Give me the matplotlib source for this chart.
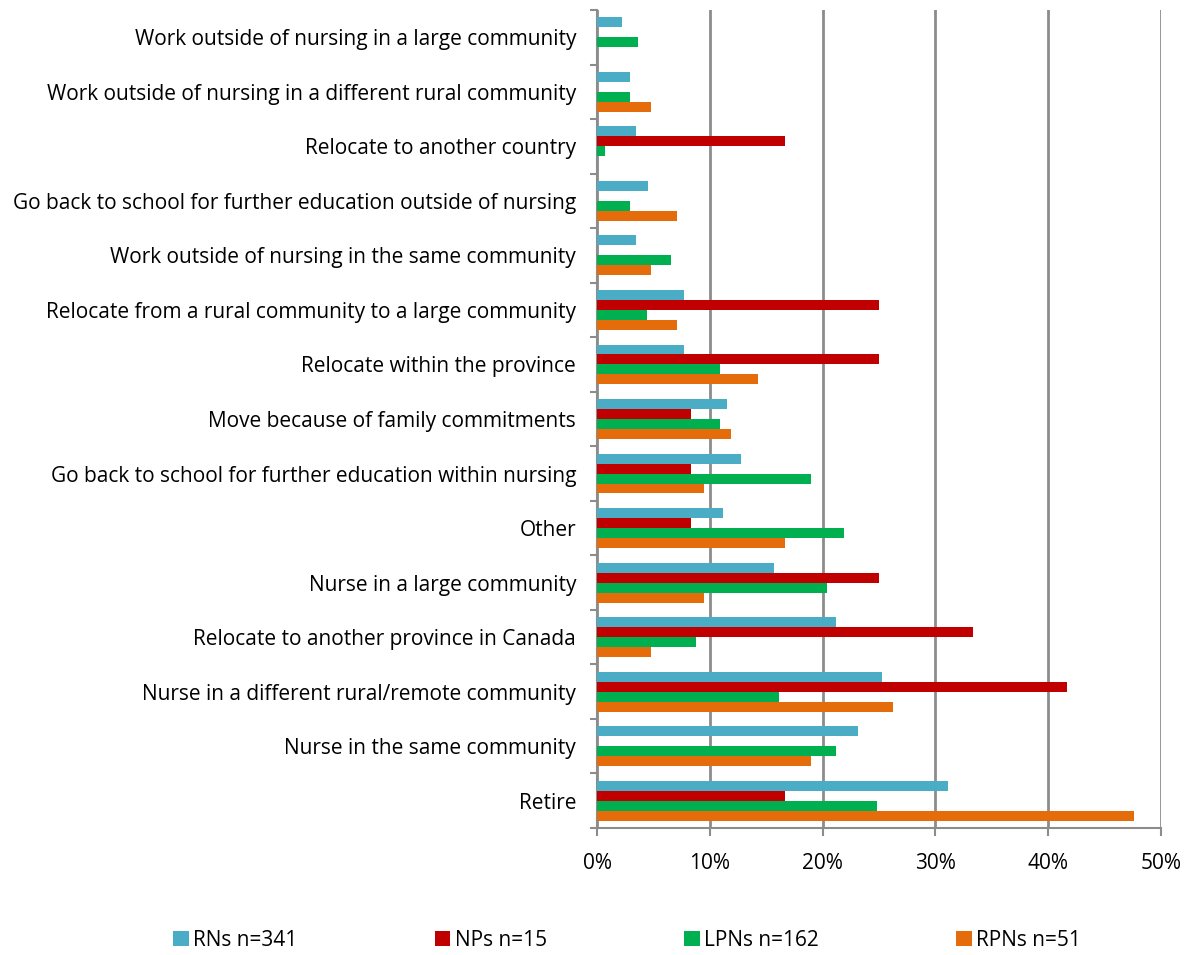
import numpy as np
import matplotlib.pyplot as plt

# categories listed from bottom to top
categories = [
    "Retire",
    "Nurse in the same community",
    "Nurse in a different rural/remote community",
    "Relocate to another province in Canada",
    "Nurse in a large community",
    "Other",
    "Go back to school for further education within nursing",
    "Move because of family commitments",
    "Relocate within the province",
    "Relocate from a rural community to a large community",
    "Work outside of nursing in the same community",
    "Go back to school for further education outside of nursing",
    "Relocate to another country",
    "Work outside of nursing in a different rural community",
    "Work outside of nursing in a large community",
]

rns = [31.1, 23.1, 25.3, 21.2, 15.7, 11.2, 12.8, 11.5, 7.7, 7.7, 3.5, 4.5, 3.5, 2.9, 2.2]
nps = [16.7, 0, 41.7, 33.3, 25.0, 8.3, 8.3, 8.3, 25.0, 25.0, 0, 0, 16.7, 0, 0]
lpns = [24.8, 21.2, 16.1, 8.8, 20.4, 21.9, 19.0, 10.9, 10.9, 4.4, 6.6, 2.9, 0.7, 2.9, 3.6]
rpns = [47.6, 19.0, 26.2, 4.8, 9.5, 16.7, 9.5, 11.9, 14.3, 7.1, 4.8, 7.1, 0, 4.8, 0]

series = [
    ("RNs n=341", rns, "#4BACC6"),
    ("NPs n=15", nps, "#C00000"),
    ("LPNs n=162", lpns, "#00B050"),
    ("RPNs n=51", rpns, "#E46C0A"),
]

plt.rcParams['font.family'] = ['Open Sans', 'DejaVu Sans']

fig = plt.figure(figsize=(11.9, 9.55), dpi=100)
ax = fig.add_axes([597 / 1190, 1 - 828 / 955, 564 / 1190, 818 / 955])

y = np.arange(len(categories))
h = 0.183
for k, (name, vals, col) in enumerate(series):
    ax.barh(y + (1.5 - k) * h, vals, height=h, color=col, label=name, zorder=3)

ax.set_xlim(0, 50)
ax.set_ylim(-0.5, len(categories) - 0.5)
ax.set_xticks(np.arange(0, 51, 10))
ax.set_xticklabels([f"{v}%" for v in range(0, 51, 10)], fontsize=15)
ax.xaxis.grid(True, color="#8c8c8c", linewidth=2, zorder=0)

ax.set_yticks(y)
ax.set_yticklabels(categories, fontsize=15)
ax.set_yticks(np.arange(-0.5, len(categories), 1), minor=True)
ax.tick_params(axis='y', which='major', length=0, pad=15)
ax.tick_params(axis='y', which='minor', length=5, width=1.5, color="#8c8c8c")
ax.tick_params(axis='x', length=6, width=1.5, color="#8c8c8c", pad=12)

for s in ["top", "right"]:
    ax.spines[s].set_visible(False)
for s in ["left", "bottom"]:
    ax.spines[s].set_color("#8c8c8c")
    ax.spines[s].set_linewidth(1.5)

handles, labels = ax.get_legend_handles_labels()
fig.legend(handles, labels, loc="center", bbox_to_anchor=(0.527, 1 - 940 / 955),
           ncol=4, frameon=False, fontsize=15, handlelength=0.75, handleheight=0.75,
           handletextpad=0.2, columnspacing=6.6)

fig.savefig("out.png", dpi=100)
